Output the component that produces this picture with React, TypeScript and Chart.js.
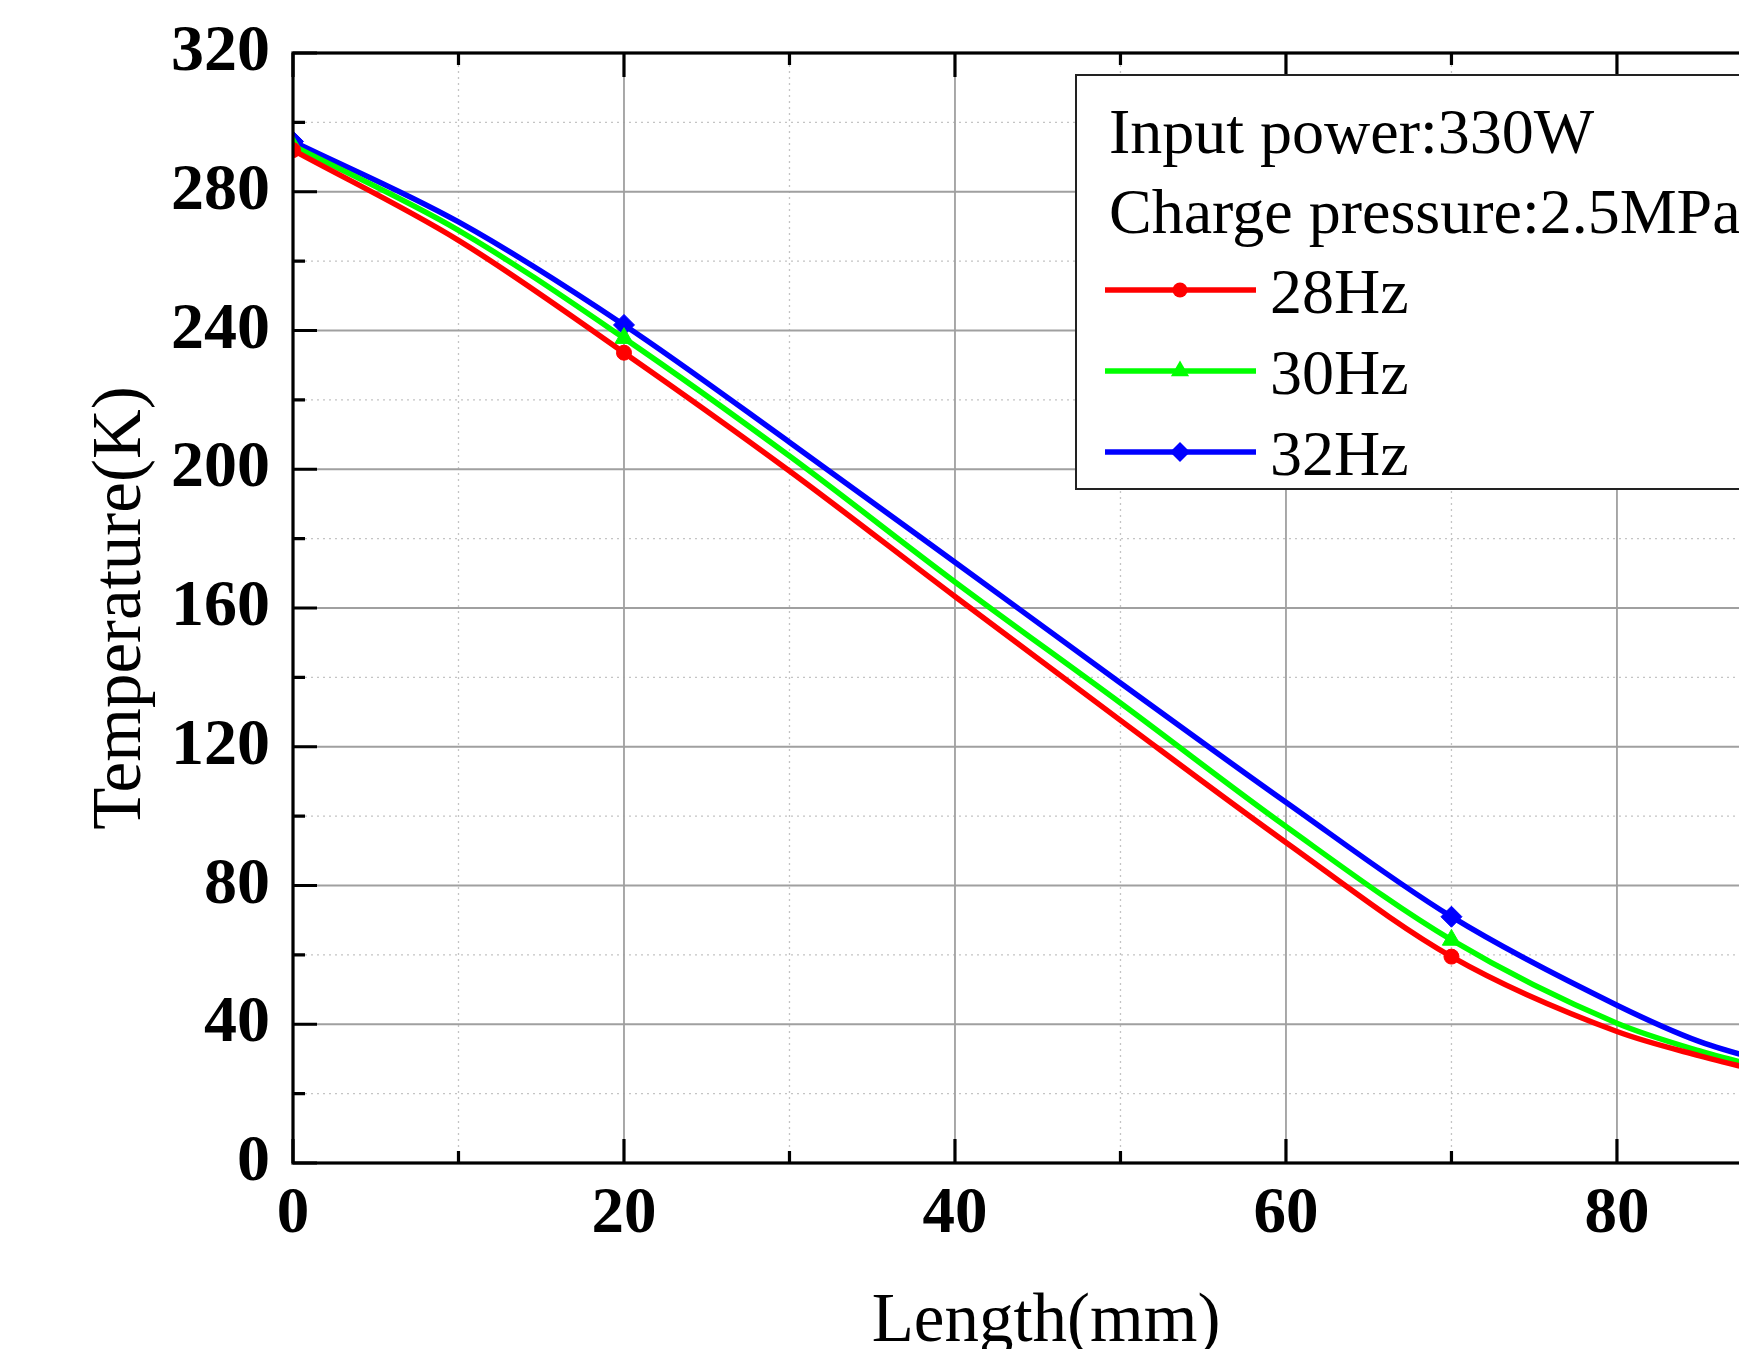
import { useEffect, useRef } from "react";
import { Chart, registerables } from "chart.js";

Chart.register(...registerables);

// ---- data ----
const LENGTH_MM = [0, 10, 20, 30, 40, 50, 60, 70, 80, 85, 90];
const TEMP_28HZ = [292.0, 266.0, 233.6, 199.5, 163.3, 127.6, 92.4, 59.5, 37.9, 30.9, 25.0];
const TEMP_30HZ = [293.3, 268.9, 237.8, 203.8, 167.5, 132.6, 97.0, 64.3, 40.3, 32.3, 26.0];
const TEMP_32HZ = [294.5, 271.3, 241.6, 207.8, 173.2, 138.4, 104.0, 71.0, 45.5, 35.0, 28.0];

const SERIES_LABELS = ["28Hz", "30Hz", "32Hz"];
const SERIES_COLORS = ["#FF0000", "#00FF00", "#0000FF"];
const SERIES_POINT_STYLES = ["circle", "triangle", "rectRot"];
const SERIES_POINT_RADII = [7.5, 10.5, 10.5];
const MARKER_AT_MM = [0, 20, 70];

const LEGEND_HEADER = ["Input power:330W", "Charge pressure:2.5MPa"];
const X_TITLE = "Length(mm)";
const Y_TITLE = "Temperature(K)";

const X_TICKS = [0, 20, 40, 60, 80];
const X_MINOR = [10, 30, 50, 70, 90];
const Y_TICKS = [0, 40, 80, 120, 160, 200, 240, 280, 320];
const Y_MINOR = [20, 60, 100, 140, 180, 220, 260, 300];
const X_MIN = 0;
const X_MAX = 91;
const Y_MIN = 0;
const Y_MAX = 320;

const FONT = '"Liberation Serif", "Times New Roman", Times, serif';
const CANVAS_W = 1900;
const CANVAS_H = 1420;

function drawMarker(ctx: CanvasRenderingContext2D, style: string, x: number, y: number, r: number) {
  ctx.beginPath();
  if (style === "circle") {
    ctx.arc(x, y, r, 0, Math.PI * 2);
  } else if (style === "triangle") {
    const h = r * 1.5;
    const w = r * Math.sqrt(3) / 2;
    ctx.moveTo(x, y - r);
    ctx.lineTo(x + w, y + h - r);
    ctx.lineTo(x - w, y + h - r);
  } else {
    ctx.moveTo(x - r, y);
    ctx.lineTo(x, y - r);
    ctx.lineTo(x + r, y);
    ctx.lineTo(x, y + r);
  }
  ctx.closePath();
  ctx.fill();
}

const framePlugin = {
  id: "originFrame",
  beforeDatasetsDraw(chart: any) {
    const { ctx, chartArea: a, scales } = chart;
    const xs = scales.x;
    const ys = scales.y;
    ctx.save();
    // minor dotted grid
    ctx.strokeStyle = "#c4c4c4";
    ctx.lineWidth = 1.3;
    ctx.setLineDash([2, 4]);
    ctx.beginPath();
    X_MINOR.forEach((v) => {
      const px = xs.getPixelForValue(v);
      ctx.moveTo(px, a.top);
      ctx.lineTo(px, a.bottom);
    });
    Y_MINOR.forEach((v) => {
      const py = ys.getPixelForValue(v);
      ctx.moveTo(a.left, py);
      ctx.lineTo(a.right, py);
    });
    ctx.stroke();
    // major solid grid
    ctx.setLineDash([]);
    ctx.strokeStyle = "#a0a0a0";
    ctx.lineWidth = 1.8;
    ctx.beginPath();
    X_TICKS.forEach((v) => {
      if (v === X_MIN) return;
      const px = xs.getPixelForValue(v);
      ctx.moveTo(px, a.top);
      ctx.lineTo(px, a.bottom);
    });
    Y_TICKS.forEach((v) => {
      if (v === Y_MIN || v === Y_MAX) return;
      const py = ys.getPixelForValue(v);
      ctx.moveTo(a.left, py);
      ctx.lineTo(a.right, py);
    });
    ctx.stroke();
    ctx.restore();
  },
  afterDatasetsDraw(chart: any) {
    const { ctx, chartArea: a, scales } = chart;
    const xs = scales.x;
    const ys = scales.y;
    const MAJOR = 24;
    const MINOR = 12;
    ctx.save();
    ctx.strokeStyle = "#000";
    ctx.lineWidth = 3.2;
    ctx.lineCap = "butt";
    ctx.strokeRect(a.left, a.top, a.right - a.left, a.bottom - a.top);
    ctx.beginPath();
    const yt = (v: number, len: number) => {
      const py = ys.getPixelForValue(v);
      ctx.moveTo(a.left, py);
      ctx.lineTo(a.left + len, py);
      ctx.moveTo(a.right, py);
      ctx.lineTo(a.right - len, py);
    };
    const xt = (v: number, len: number) => {
      const px = xs.getPixelForValue(v);
      ctx.moveTo(px, a.bottom);
      ctx.lineTo(px, a.bottom - len);
      ctx.moveTo(px, a.top);
      ctx.lineTo(px, a.top + len);
    };
    Y_TICKS.forEach((v) => yt(v, MAJOR));
    Y_MINOR.forEach((v) => yt(v, MINOR));
    X_TICKS.forEach((v) => xt(v, MAJOR));
    X_MINOR.forEach((v) => xt(v, MINOR));
    ctx.stroke();
    ctx.restore();
  },
};

const legendPlugin = {
  id: "boxLegend",
  afterDraw(chart: any) {
    const { ctx, chartArea: a } = chart;
    const left = a.left + 783;
    const top = a.top + 22;
    const right = a.right - 4;
    const bottom = a.top + 436;
    ctx.save();
    ctx.fillStyle = "#ffffff";
    ctx.fillRect(left, top, right - left, bottom - top);
    ctx.strokeStyle = "#222";
    ctx.lineWidth = 2;
    ctx.strokeRect(left, top, right - left, bottom - top);

    ctx.fillStyle = "#000";
    ctx.font = `64px ${FONT}`;
    ctx.textAlign = "left";
    ctx.textBaseline = "alphabetic";
    LEGEND_HEADER.forEach((t, i) => {
      ctx.fillText(t, left + 33, top + 78 + i * 80);
    });

    chart.data.datasets.forEach((ds: any, i: number) => {
      const ly = top + 215 + i * 81;
      ctx.strokeStyle = ds.borderColor;
      ctx.lineWidth = 5.5;
      ctx.beginPath();
      ctx.moveTo(left + 29, ly);
      ctx.lineTo(left + 180, ly);
      ctx.stroke();
      ctx.fillStyle = ds.borderColor;
      drawMarker(ctx, ds.pointStyle, left + 104, ly, ds.legendRadius);
      ctx.fillStyle = "#000";
      ctx.fillText(ds.label, left + 194, ly + 23);
    });
    ctx.restore();
  },
};

export default function App() {
  const canvasRef = useRef<HTMLCanvasElement | null>(null);

  useEffect(() => {
    const canvas = canvasRef.current;
    if (!canvas) return;
    const seriesValues = [TEMP_28HZ, TEMP_30HZ, TEMP_32HZ];
    const legendRadii = [7.5, 10.5, 10];

    const datasets = seriesValues.map((vals, i) => ({
      label: SERIES_LABELS[i],
      data: LENGTH_MM.map((x, k) => ({ x, y: vals[k] })),
      borderColor: SERIES_COLORS[i],
      backgroundColor: SERIES_COLORS[i],
      borderWidth: 5.5,
      cubicInterpolationMode: "monotone",
      pointStyle: SERIES_POINT_STYLES[i],
      pointBorderWidth: 1,
      pointBorderColor: SERIES_COLORS[i],
      pointBackgroundColor: SERIES_COLORS[i],
      pointRadius: (c: any) => (MARKER_AT_MM.includes(LENGTH_MM[c.dataIndex]) ? SERIES_POINT_RADII[i] : 0),
      pointHoverRadius: 0,
      legendRadius: legendRadii[i],
    }));

    const chart = new Chart(canvas, {
      type: "line",
      data: { datasets: datasets as any },
      plugins: [framePlugin, legendPlugin],
      options: {
        animation: false,
        responsive: false,
        devicePixelRatio: 1,
        events: [],
        layout: { padding: { left: 0, top: 53, right: CANVAS_W - 1799, bottom: 0 } },
        plugins: {
          legend: { display: false },
          tooltip: { enabled: false },
        },
        scales: {
          x: {
            type: "linear",
            min: X_MIN,
            max: X_MAX,
            afterBuildTicks: (s: any) => {
              s.ticks = X_TICKS.map((v) => ({ value: v }));
            },
            ticks: {
              font: { family: FONT, size: 65, weight: "bold" },
              color: "#000",
              padding: 13,
              maxRotation: 0,
              autoSkip: false,
            },
            grid: { display: false, drawTicks: false },
            border: { display: false },
            title: {
              display: true,
              text: X_TITLE,
              color: "#000",
              font: { family: FONT, size: 69, weight: "normal" },
              padding: { top: 0, bottom: 56 },
            },
            afterFit: (s: any) => {
              s.height = 257;
              s.paddingLeft = 0;
              s.paddingRight = 0;
            },
          },
          y: {
            type: "linear",
            min: Y_MIN,
            max: Y_MAX,
            afterBuildTicks: (s: any) => {
              s.ticks = Y_TICKS.map((v) => ({ value: v }));
            },
            ticks: {
              font: { family: FONT, size: 66, weight: "bold" },
              color: "#000",
              padding: 23,
              autoSkip: false,
            },
            grid: { display: false, drawTicks: false },
            border: { display: false },
            title: {
              display: true,
              text: Y_TITLE,
              color: "#000",
              font: { family: FONT, size: 69, weight: "normal" },
              padding: { top: 80, bottom: 0 },
            },
            afterFit: (s: any) => {
              s.width = 293;
              s.paddingTop = 0;
              s.paddingBottom = 0;
            },
          },
        },
      } as any,
    });
    return () => chart.destroy();
  }, []);

  return (
    <div
      style={{
        position: "fixed",
        left: 0,
        top: 0,
        width: CANVAS_W,
        height: CANVAS_H,
        background: "#fff",
        overflow: "hidden",
      }}
    >
      <canvas ref={canvasRef} width={CANVAS_W} height={CANVAS_H} style={{ display: "block" }} />
    </div>
  );
}
